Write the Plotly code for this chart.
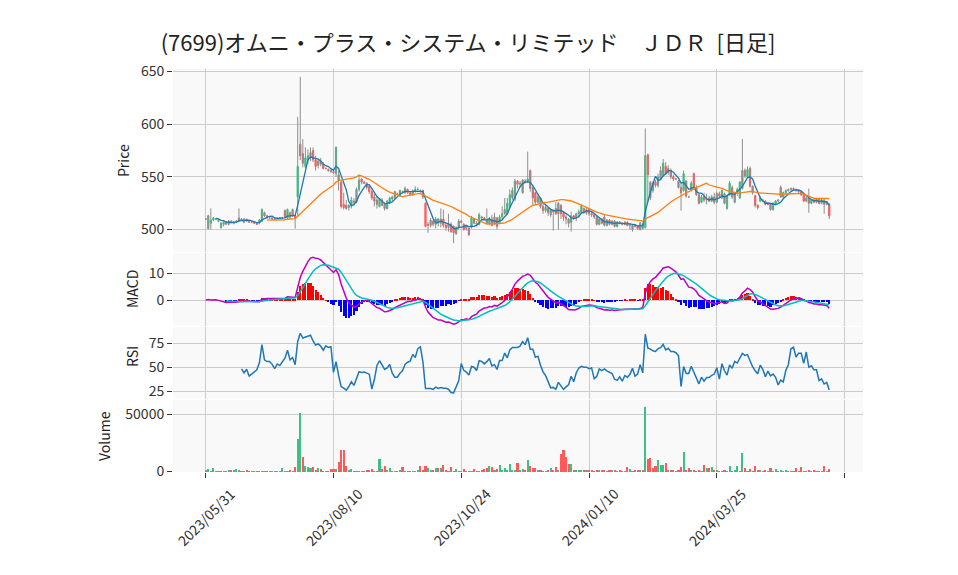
import plotly.graph_objects as go
import pandas as pd

TITLE = "(7699)オムニ・プラス・システム・リミテッド　ＪＤＲ  [日足]"
tick_idx = [0, 50, 100, 150, 200, 250]
tick_text = ["2023/05/31", "2023/08/10", "2023/10/24", "2024/01/10", "2024/03/25", ""]

# daily OHLC (index = trading day from 2023/05/31)
opens = [
    510, 501, 506, 509, 510, 509, 502, 505, 507, 505,
    508, 506, 507, 508, 510, 507, 510, 508, 507, 507,
    506, 506, 508, 516, 513, 511, 511, 510, 510, 511,
    511, 518, 511, 516, 519, 513, 531, 581, 572, 560,
    566, 569, 575, 566, 561, 565, 562, 558, 557, 556,
    555, 553, 552, 545, 524, 523, 521, 522, 527, 526,
    538, 548, 545, 544, 541, 536, 531, 528, 522, 528,
    524, 520, 525, 529, 530, 534, 532, 536, 535, 538,
    535, 533, 537, 538, 537, 537, 525, 505, 504, 508,
    505, 510, 506, 510, 504, 502, 505, 503, 496, 502,
    508, 505, 501, 501, 502, 510, 506, 505, 512, 511,
    509, 506, 510, 505, 511, 506, 512, 515, 515, 522,
    530, 529, 546, 543, 535, 546, 546, 556, 540, 535,
    526, 530, 522, 518, 520, 514, 518, 520, 515, 523,
    516, 512, 510, 507, 513, 511, 515, 516, 520, 516,
    519, 515, 514, 512, 505, 510, 512, 504, 509, 505,
    508, 503, 507, 506, 505, 507, 504, 500, 504, 503,
    500, 501, 502, 571, 530, 537, 545, 542, 548, 552,
    560, 554, 556, 550, 548, 546, 540, 537, 546, 531,
    537, 553, 540, 533, 526, 531, 528, 530, 527, 531,
    526, 534, 530, 534, 520, 533, 540, 526, 535, 530,
    539, 556, 550, 558, 541, 532, 523, 527, 528, 527,
    524, 524, 519, 525, 527, 540, 531, 535, 537, 538,
    539, 538, 537, 536, 533, 527, 530, 525, 528, 526,
    529, 525, 528, 524, 524,
]
highs = [
    511, 514, 520, 512, 511, 510, 507, 508, 508, 509,
    509, 508, 509, 520, 511, 511, 510, 509, 508, 508,
    507, 510, 520, 517, 514, 512, 512, 511, 511, 512,
    512, 519, 520, 517, 520, 514, 607, 645, 586, 578,
    576, 578, 578, 570, 567, 568, 564, 559, 558, 557,
    556, 579, 556, 546, 535, 528, 524, 531, 530, 540,
    552, 549, 546, 545, 543, 538, 534, 531, 530, 530,
    526, 528, 531, 532, 537, 535, 538, 537, 541, 539,
    536, 538, 541, 540, 538, 538, 526, 507, 511, 509,
    512, 511, 520, 519, 506, 515, 507, 504, 503, 510,
    509, 506, 504, 502, 513, 511, 508, 516, 513, 512,
    520, 512, 514, 516, 512, 514, 522, 530, 530, 538,
    540, 548, 547, 546, 548, 548, 574, 557, 541, 536,
    534, 531, 526, 524, 521, 520, 519, 526, 526, 524,
    517, 514, 511, 517, 514, 516, 519, 524, 521, 521,
    520, 517, 516, 513, 512, 511, 514, 510, 510, 509,
    509, 508, 508, 507, 508, 508, 506, 505, 505, 504,
    507, 506, 596, 572, 546, 546, 547, 553, 560, 567,
    564, 561, 558, 552, 549, 547, 544, 556, 547, 532,
    546, 554, 542, 534, 533, 535, 534, 532, 533, 535,
    536, 536, 538, 535, 533, 546, 542, 536, 540, 546,
    586, 558, 560, 560, 542, 533, 524, 532, 529, 528,
    525, 525, 526, 528, 529, 542, 536, 538, 539, 540,
    540, 539, 538, 537, 534, 531, 539, 529, 529, 530,
    530, 529, 529, 527, 525,
]
lows = [
    509, 500, 500, 508, 509, 507, 501, 503, 505, 504,
    506, 505, 506, 507, 508, 506, 508, 507, 506, 506,
    505, 505, 507, 512, 510, 510, 510, 509, 509, 510,
    510, 511, 510, 510, 512, 501, 512, 566, 559, 558,
    562, 565, 564, 556, 558, 560, 557, 557, 555, 554,
    553, 550, 537, 520, 519, 519, 518, 520, 523, 525,
    536, 543, 543, 538, 534, 528, 522, 520, 521, 522,
    518, 519, 524, 527, 529, 533, 531, 535, 534, 534,
    532, 532, 535, 537, 535, 529, 502, 497, 502, 503,
    501, 503, 502, 502, 499, 498, 497, 487, 495, 500,
    506, 499, 499, 494, 501, 505, 503, 504, 510, 509,
    505, 504, 503, 504, 500, 505, 510, 514, 514, 520,
    528, 527, 539, 540, 534, 544, 544, 536, 523, 523,
    525, 520, 515, 516, 513, 512, 499, 514, 500, 510,
    508, 505, 502, 498, 509, 508, 511, 515, 515, 514,
    513, 512, 510, 504, 504, 505, 503, 503, 504, 504,
    502, 502, 505, 504, 504, 503, 500, 498, 502, 500,
    499, 500, 501, 526, 528, 535, 540, 540, 547, 550,
    552, 552, 548, 546, 547, 539, 518, 536, 530, 530,
    536, 538, 532, 524, 525, 526, 524, 526, 526, 524,
    525, 530, 529, 524, 519, 532, 529, 525, 532, 529,
    538, 549, 549, 540, 533, 521, 519, 526, 526, 523,
    523, 518, 518, 523, 526, 530, 530, 534, 536, 537,
    537, 536, 535, 532, 526, 526, 516, 524, 525, 525,
    524, 524, 515, 523, 510,
]
closes = [
    510, 513, 509, 511, 510, 508, 506, 507, 505, 508,
    507, 507, 508, 511, 509, 510, 508, 507, 507, 506,
    505, 509, 519, 513, 511, 511, 510, 510, 511, 511,
    511, 512, 519, 512, 513, 511, 560, 570, 563, 568,
    570, 573, 566, 560, 565, 562, 558, 558, 556, 555,
    554, 578, 547, 522, 521, 520, 523, 528, 526, 538,
    547, 545, 544, 540, 536, 530, 527, 524, 529, 523,
    520, 527, 530, 531, 536, 534, 537, 536, 539, 535,
    533, 537, 538, 538, 536, 531, 503, 504, 509, 505,
    510, 506, 510, 504, 502, 505, 498, 497, 502, 508,
    507, 500, 503, 495, 511, 506, 505, 514, 511, 510,
    506, 510, 504, 512, 503, 512, 515, 519, 525, 533,
    537, 546, 543, 544, 547, 545, 548, 539, 530, 526,
    531, 522, 518, 521, 516, 519, 517, 515, 525, 515,
    512, 510, 506, 513, 511, 515, 517, 522, 516, 519,
    515, 514, 512, 505, 510, 506, 504, 509, 505, 508,
    503, 507, 506, 505, 507, 504, 505, 504, 503, 501,
    506, 505, 570, 552, 545, 544, 542, 550, 556, 563,
    553, 558, 550, 548, 548, 540, 535, 553, 532, 531,
    544, 540, 533, 525, 531, 528, 529, 527, 531, 526,
    534, 532, 537, 525, 532, 544, 531, 535, 538, 545,
    556, 551, 557, 541, 535, 523, 521, 530, 527, 524,
    524, 519, 525, 527, 528, 531, 535, 537, 538, 539,
    538, 537, 536, 533, 527, 530, 525, 528, 526, 529,
    525, 528, 524, 526, 513,
]
volumes = [
    1000, 2800, 800, 3700, 600, 300, 700, 700, 800, 1500,
    1500, 1000, 2500, 1200, 800, 800, 1800, 300, 200, 200,
    200, 600, 600, 600, 500, 400, 600, 500, 500, 600,
    3500, 800, 600, 2000, 800, 4200, 29000, 51000, 13000, 5000,
    4000, 3000, 4000, 2000, 3200, 2500, 700, 700, 700, 2800,
    2800, 2800, 8800, 19500, 19500, 5000, 2000, 2500, 500, 500,
    600, 500, 600, 1500, 1000, 2400, 600, 600, 11300, 2500,
    5000, 1500, 3200, 800, 800, 800, 1500, 4200, 600, 500,
    600, 500, 700, 1200, 5000, 1500, 5000, 3300, 1000, 1000,
    3500, 3500, 3800, 6000, 1000, 800, 4200, 800, 2800, 500,
    500, 2500, 700, 700, 700, 2500, 500, 500, 1500, 2500,
    3500, 5000, 4500, 1500, 2500, 5800, 2000, 3000, 1000, 6600,
    2000, 1000, 7400, 1000, 2500, 1500, 10800, 5000, 3000, 3000,
    1500, 1500, 500, 800, 1000, 3200, 1500, 4500, 1000, 15700,
    19400, 13400, 6600, 7100, 1500, 1300, 1300, 1300, 1800, 1300,
    1300, 1300, 800, 1500, 1800, 1800, 1800, 800, 2000, 1500,
    1000, 800, 2000, 800, 800, 4000, 2500, 800, 1500, 1500,
    1000, 1000, 57000, 11000, 12000, 3600, 5500, 10000, 6000, 6000,
    7400, 1500, 1000, 1500, 800, 1500, 4000, 17700, 1500, 3000,
    2000, 1500, 800, 1500, 800, 5700, 3800, 3000, 4400, 2000,
    2000, 800, 800, 1500, 800, 4900, 800, 1500, 4900, 800,
    16600, 3500, 800, 2800, 800, 4900, 1000, 1000, 800, 1000,
    500, 3200, 800, 2800, 500, 1500, 500, 1500, 500, 700,
    500, 3200, 500, 4500, 500, 800, 2000, 500, 1000, 700,
    500, 800, 4900, 800, 2300,
]

n = len(closes)
assert len(opens) == n and len(highs) == n and len(lows) == n and len(volumes) == n
idx = list(range(n))

c = pd.Series(closes, dtype=float)
ma5 = c.rolling(5).mean()
ma25 = c.rolling(25).mean()
ema12 = c.ewm(span=12, adjust=False).mean()
ema26 = c.ewm(span=26, adjust=False).mean()
macd = ema12 - ema26
signal = macd.ewm(span=9, adjust=False, min_periods=9).mean()
hist = macd - signal
delta = c.diff()
gain = delta.clip(lower=0).rolling(14).mean()
loss = (-delta.clip(upper=0)).rolling(14).mean()
rsi = 100 * gain / (gain + loss)

UP = "#3fbf84"
DN = "#ff5959"
WICK = "#8f8f8f"
FONT = "Noto Sans CJK JP"

wx, wy = [], []
for i in idx:
    wx += [i, i, None]
    wy += [lows[i], highs[i], None]

body_hi = [max(o, cl) for o, cl in zip(opens, closes)]
body_lo = [min(o, cl) for o, cl in zip(opens, closes)]

vol_colors = [UP if i == 0 or closes[i] >= closes[i - 1] else DN for i in idx]
hist_colors = ["#ff0000" if (v == v and v >= 0) else "#0000ff" for v in hist]

fig = go.Figure()
fig.add_trace(go.Scatter(x=wx, y=wy, mode="lines", line=dict(color=WICK, width=1),
                         xaxis="x", yaxis="y", hoverinfo="skip"))
fig.add_trace(go.Candlestick(x=idx, open=opens, high=body_hi, low=body_lo, close=closes,
                             increasing=dict(fillcolor=UP, line=dict(color=UP, width=1)),
                             decreasing=dict(fillcolor=DN, line=dict(color=DN, width=1)),
                             whiskerwidth=0, xaxis="x", yaxis="y"))
fig.add_trace(go.Scatter(x=idx, y=ma5, mode="lines", line=dict(color="#1f77b4", width=1.3),
                         xaxis="x", yaxis="y"))
fig.add_trace(go.Scatter(x=idx, y=ma25, mode="lines", line=dict(color="#ff7f0e", width=1.3),
                         xaxis="x", yaxis="y"))

fig.add_trace(go.Bar(x=idx, y=hist, marker=dict(color=hist_colors, line=dict(width=0)),
                     width=0.8, xaxis="x2", yaxis="y2"))
fig.add_trace(go.Scatter(x=idx, y=macd, mode="lines", line=dict(color="#bf00bf", width=1.5),
                         xaxis="x2", yaxis="y2"))
fig.add_trace(go.Scatter(x=idx, y=signal, mode="lines", line=dict(color="#00bfbf", width=1.5),
                         xaxis="x2", yaxis="y2"))

fig.add_trace(go.Scatter(x=idx, y=rsi, mode="lines", line=dict(color="#1f77b4", width=1.5),
                         xaxis="x3", yaxis="y3"))

fig.add_trace(go.Bar(x=idx, y=volumes, marker=dict(color=vol_colors, line=dict(width=0)),
                     width=0.8, xaxis="x4", yaxis="y4"))

# layout geometry (pixels)
W, H = 958, 575
L, R, T, B = 173, 95, 69, 103
ph = H - T - B
pw = W - L - R

def frac(ypix):
    return (H - B - ypix) / ph

XR = [-12.8, 257.2]
grid = "#cccccc"
tickfont = dict(family=FONT, size=14, color="#333333")

common_x = dict(range=XR, tickmode="array", tickvals=tick_idx, showgrid=True, gridcolor=grid,
                gridwidth=1, zeroline=False, showline=False, rangeslider=dict(visible=False))
common_y = dict(showgrid=True, gridcolor=grid, gridwidth=1, zeroline=False, showline=False,
                ticks="outside", ticklen=5, tickcolor="#333333", tickfont=tickfont)

fig.update_layout(
    width=W, height=H,
    margin=dict(l=L, r=R, t=T, b=B),
    paper_bgcolor="white", plot_bgcolor="#f9f9f9",
    showlegend=False, bargap=0,
    font=dict(family=FONT, color="#222222"),
    title=dict(text=TITLE, x=468 / W, xref="container", xanchor="center",
               y=1 - 43 / H, yref="container", yanchor="middle",
               font=dict(family=FONT, size=22, color="#222222")),
    xaxis=dict(common_x, anchor="y", showticklabels=False, ticks=""),
    xaxis2=dict(common_x, anchor="y2", matches="x", showticklabels=False, ticks=""),
    xaxis3=dict(common_x, anchor="y3", matches="x", showticklabels=False, ticks=""),
    xaxis4=dict(common_x, anchor="y4", matches="x", showticklabels=False,
                ticks="outside", ticklen=5, tickcolor="#333333"),
    yaxis=dict(common_y, domain=[frac(252.0), 1.0], range=[478.7, 652.4],
               tickvals=[500, 550, 600, 650]),
    yaxis2=dict(common_y, domain=[frac(325.8), frac(253.0)], range=[-9.5, 17.5],
                tickvals=[0, 10]),
    yaxis3=dict(common_y, domain=[frac(398.5), frac(326.8)], range=[17.5, 91.9],
                tickvals=[25, 50, 75]),
    yaxis4=dict(common_y, domain=[0, frac(399.5)], range=[-500, 62700],
                tickvals=[0, 50000], tickformat="d"),
)

# rotated date labels centred under their ticks
for tv, tt in zip(tick_idx, tick_text):
    if tt:
        fig.add_annotation(text=tt, x=tv, xref="x4", y=frac(481), yref="paper",
                           showarrow=False, textangle=-45, xanchor="center", yanchor="top",
                           font=dict(family=FONT, size=14, color="#333333"))

def ylabel(text, xpix, ypix):
    fig.add_annotation(text=text, xref="paper", yref="paper",
                       x=(xpix - L) / pw, y=frac(ypix), showarrow=False, textangle=-90,
                       xanchor="center", yanchor="middle",
                       font=dict(family=FONT, size=14, color="#222222"))

ylabel("Price", 123, 161)
ylabel("MACD", 132, 289)
ylabel("RSI", 132, 357)
ylabel("Volume", 104, 436)

fig.write_html("out.html")
